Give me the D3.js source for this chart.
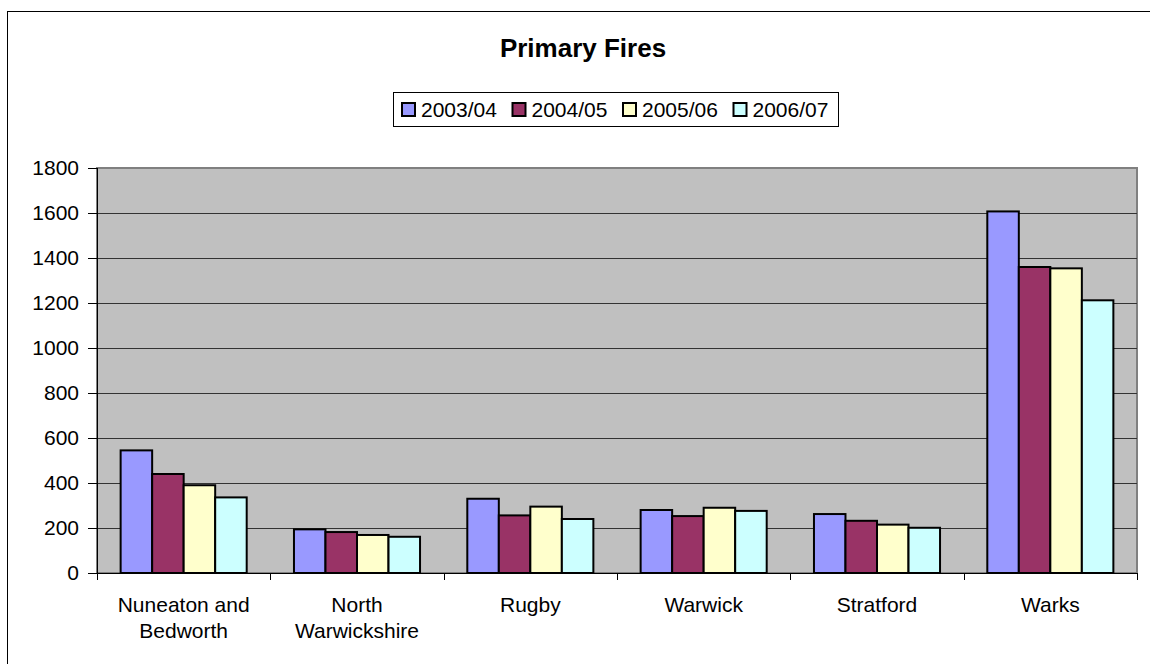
<!DOCTYPE html>
<html>
<head>
<meta charset="utf-8">
<script src="https://cdn.jsdelivr.net/npm/d3@7"></script>
<style>
  body { margin: 0; background: #fff; }
  svg { font-family: "Liberation Sans", Arial, sans-serif; }
</style>
</head>
<body>
<svg class="chart"></svg>
<script>
const categories = ["Nuneaton and|Bedworth", "North|Warwickshire", "Rugby", "Warwick", "Stratford", "Warks"];
const seriesNames = ["2003/04", "2004/05", "2005/06", "2006/07"];
const fy0304 = [545, 194, 330, 280, 262, 1607];
const fy0405 = [440, 182, 256, 253, 232, 1360];
const fy0506 = [390, 169, 295, 290, 215, 1354];
const fy0607 = [336, 161, 240, 276, 201, 1212];
const yTicks = [0, 200, 400, 600, 800, 1000, 1200, 1400, 1600, 1800];
const colors = ["#9999FF", "#993366", "#FFFFCC", "#CCFFFF"];

const series = [fy0304, fy0405, fy0506, fy0607];

const
  W = 1150,
  H = 664,
  margin = {top: 168, right: 13, bottom: 91, left: 97},
  width = W - margin.left - margin.right,
  height = H - margin.top - margin.bottom;

const svg = d3.select(".chart")
  .attr("width", W)
  .attr("height", H);

// outer chart frame (runs off the right/bottom edge like the original)
svg.append("rect")
  .attr("x", 7.5).attr("y", 11.5)
  .attr("width", W + 10).attr("height", H + 10)
  .attr("fill", "none").attr("stroke", "#000").attr("stroke-width", 1);

svg.append("text")
  .attr("x", 583).attr("y", 57)
  .attr("text-anchor", "middle")
  .attr("font-size", "26px").attr("font-weight", "bold")
  .text("Primary Fires");

// legend
const legend = svg.append("g").attr("transform", "translate(393,92)");
legend.append("rect")
  .attr("x", 0.5).attr("y", 0.5).attr("width", 445).attr("height", 34)
  .attr("fill", "#fff").attr("stroke", "#000");
seriesNames.forEach((name, i) => {
  const g = legend.append("g").attr("transform", `translate(${8 + i * 110.5},0)`);
  g.append("rect")
    .attr("x", 1).attr("y", 11).attr("width", 13).attr("height", 13)
    .attr("fill", colors[i]).attr("stroke", "#000").attr("stroke-width", 2);
  g.append("text")
    .attr("x", 20).attr("y", 25)
    .attr("font-size", "21px")
    .text(name);
});

const x0 = d3.scaleBand()
  .domain(categories)
  .range([0, width]);

const x1 = d3.scaleBand()
  .domain(d3.range(series.length))
  .range([x0.bandwidth() * 0.75 / 5.5, x0.bandwidth() * (1 - 0.75 / 5.5)]);

const y = d3.scaleLinear()
  .domain([0, 1800])
  .range([height, 0]);

const plot = svg.append("g")
  .attr("transform", `translate(${margin.left},${margin.top})`);

plot.append("rect")
  .attr("x", 0).attr("y", 0).attr("width", width).attr("height", height)
  .attr("fill", "#C0C0C0").attr("stroke", "#808080").attr("stroke-width", 2);

plot.selectAll(".grid")
  .data(yTicks.slice(1, -1))
  .enter()
  .append("line")
    .attr("x1", 0).attr("x2", width)
    .attr("y1", d => Math.round(y(d)) + 0.5)
    .attr("y2", d => Math.round(y(d)) + 0.5)
    .attr("stroke", "#333");

const groups = plot.selectAll(".cat")
  .data(categories)
  .enter()
  .append("g")
    .attr("transform", d => `translate(${x0(d)},0)`);

groups.selectAll("rect")
  .data((d, ci) => series.map((s, si) => ({si, v: s[ci]})))
  .enter()
  .append("rect")
    .attr("x", d => x1(d.si))
    .attr("y", d => y(d.v))
    .attr("width", x1.bandwidth())
    .attr("height", d => height - y(d.v))
    .attr("fill", d => colors[d.si])
    .attr("stroke", "#000")
    .attr("stroke-width", 2);

// y axis
const yAxis = d3.axisLeft(y)
  .tickValues(yTicks)
  .tickFormat(d3.format("d"))
  .tickSize(9)
  .tickPadding(9);

plot.append("g")
  .attr("class", "y-axis")
  .call(yAxis)
  .call(g => g.select(".domain").attr("stroke", "#000").attr("d", `M0.5,0V${height}`))
  .call(g => g.selectAll(".tick line").attr("stroke", "#000"))
  .call(g => g.selectAll("text").attr("font-size", "21px").attr("fill", "#000").attr("font-family", "Liberation Sans, Arial, sans-serif"));

// x axis: ticks at category boundaries
plot.append("line")
  .attr("x1", 0).attr("x2", width)
  .attr("y1", height + 0.5).attr("y2", height + 0.5)
  .attr("stroke", "#000");

plot.selectAll(".xtick")
  .data(categories.concat([null]))
  .enter()
  .append("line")
    .attr("x1", (d, i) => Math.round(i * x0.step()) + 0.5)
    .attr("x2", (d, i) => Math.round(i * x0.step()) + 0.5)
    .attr("y1", height)
    .attr("y2", height + 7)
    .attr("stroke", "#000");

const xl = plot.selectAll(".xlabel")
  .data(categories)
  .enter()
  .append("text")
    .attr("x", d => x0(d) + x0.bandwidth() / 2)
    .attr("y", height + 39)
    .attr("text-anchor", "middle")
    .attr("font-size", "21px");

xl.selectAll("tspan")
  .data(d => d.split("|"))
  .enter()
  .append("tspan")
    .attr("x", function() { return d3.select(this.parentNode).attr("x"); })
    .attr("dy", (d, i) => i === 0 ? 0 : 26)
    .text(d => d);
</script>
</body>
</html>
